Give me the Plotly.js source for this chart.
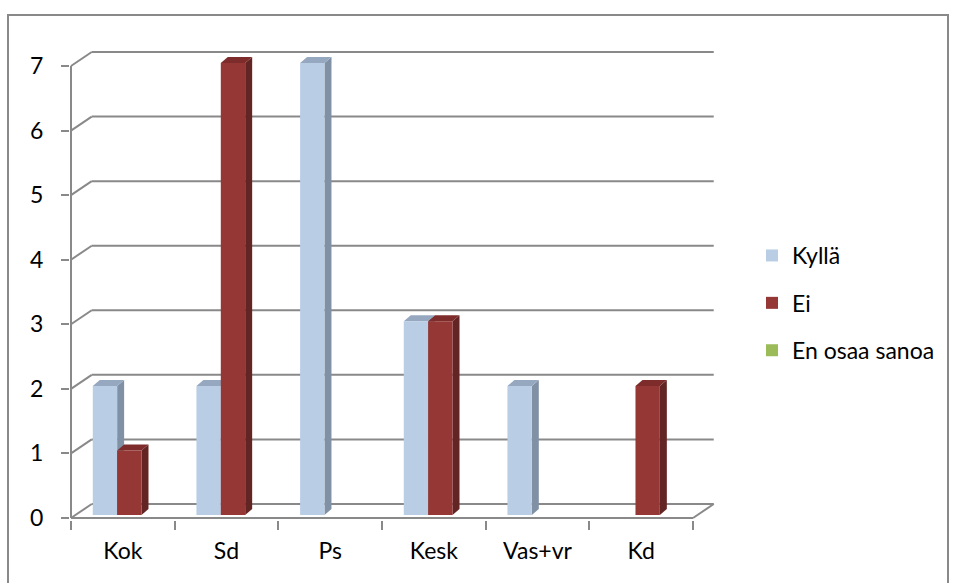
<!DOCTYPE html>
<html><head><meta charset="utf-8">
<script src="https://cdn.plot.ly/plotly-3.0.1.min.js"></script>
<style>html,body{margin:0;padding:0;background:#fff}</style>
</head><body><div id="chart" style="width:956px;height:583px"></div>
<script>
// ---- data ----
const categories = ["Kok", "Sd", "Ps", "Kesk", "Vas+vr", "Kd"];
const seriesNames = ["Kyllä", "Ei", "En osaa sanoa"];
const kylla = [2, 2, 7, 3, 2, 0];
const ei = [1, 7, 0, 3, 0, 2];
const enOsaaSanoa = [0, 0, 0, 0, 0, 0];
const yTickVals = [0, 1, 2, 3, 4, 5, 6, 7];

// ---- styling / geometry ----
const W = 956, H = 583, ML = 70, MR = 239, MT = 49, MB = 63;
const PXX = 103.67, PXY = 64.57;      // px per unit
const X0PX = 71, Y0PX = 518;          // front-corner pixel
const xRange = [-0.5 - (X0PX - ML) / PXX, -0.5 + (W - MR - X0PX) / PXX];
const yRange = [-(H - MB - Y0PX) / PXY, (Y0PX - MT) / PXY];
const DX = 0.2, DY = 0.217;           // wall depth
const BW = 0.235, B = 0.046;          // bar width, bar base
const offsets = [-0.29, -0.055, 0.18];
const SDX = 0.0675, SDY = 0.093;      // bar depth
const frontCol = ["#b9cde5", "#953735", "#9bbb59"];
const sideCol = ["#8091a6", "#632523", "#71893f"];
const topCol = ["#96a8bf", "#7e2c2b", "#86a34c"];
const gridCol = "#898989";
const font = {family: "Lato, 'Open Sans', sans-serif", size: 23, color: "#000"};
const series = [kylla, ei, enOsaaSanoa];
const idx = categories.map((_, i) => i);

const traces = series.map((vals, s) => ({
  type: "bar", name: seriesNames[s], x: idx, y: vals, base: B,
  width: BW, offset: offsets[s], xaxis: s === 2 ? "x2" : "x",
  marker: {color: frontCol[s], line: {width: 0}},
  legendgroup: "g" + s, hoverinfo: "skip"
}));

const shapes = [];
const line = (x0, y0, x1, y1) => shapes.push({type: "line", xref: "x", yref: "y", x0, y0, x1, y1,
  layer: "below", line: {color: gridCol, width: 2}});
yTickVals.forEach(v => {
  line(-0.5, v, -0.5 + DX, v + DY);
  line(-0.5 + DX, v + DY, categories.length - 0.5 + DX, v + DY);
});
const xEnd = categories.length - 0.5;
line(-0.5, 0, xEnd, 0);
line(xEnd, 0, xEnd + DX, DY);
line(-0.5, 0, -0.5, yTickVals[yTickVals.length - 1]);

series.forEach((vals, s) => {
  vals.forEach((v, i) => {
    if (!(v > 0)) return;
    const x0 = i + offsets[s], x1 = x0 + BW, y0 = B, y1 = B + v;
    shapes.push({type: "path", xref: "x", yref: "y", layer: "below", line: {width: 0},
      fillcolor: sideCol[s],
      path: `M${x1},${y0}L${x1 + SDX},${y0 + SDY}L${x1 + SDX},${y1 + SDY}L${x1},${y1}Z`});
    shapes.push({type: "path", xref: "x", yref: "y", layer: "below", line: {width: 0},
      fillcolor: topCol[s],
      path: `M${x0},${y1}L${x0 + SDX},${y1 + SDY}L${x1 + SDX},${y1 + SDY}L${x1},${y1}Z`});
  });
});

const pX = px => (px - ML) / (W - ML - MR);
const pY = py => (H - MB - py) / (H - MT - MB);
shapes.push({type: "rect", xref: "paper", yref: "paper", x0: pX(8), x1: pX(948), y0: pY(15), y1: pY(600),
  line: {color: gridCol, width: 2}, fillcolor: "rgba(0,0,0,0)", layer: "above"});

const boundaries = [-0.5].concat(idx.map(i => i + 0.5));

const layout = {
  width: W, height: H, margin: {l: ML, r: MR, t: MT, b: MB, pad: 0},
  paper_bgcolor: "#fff", plot_bgcolor: "rgba(0,0,0,0)",
  barmode: "overlay", showlegend: true, font: font,
  xaxis: {range: xRange, tickvals: boundaries, ticktext: boundaries.map(() => ""),
    ticks: "outside", ticklen: 9, tickwidth: 2, tickcolor: gridCol,
    showgrid: false, zeroline: false, showline: false, fixedrange: true},
  xaxis2: {overlaying: "x", anchor: "y", side: "bottom", range: xRange,
    tickvals: idx, ticktext: categories, ticks: "", showgrid: false, zeroline: false,
    showline: false, tickfont: font, ticklabelstandoff: 15},
  yaxis: {range: yRange, tickvals: yTickVals, ticks: "outside", ticklen: 8, tickwidth: 2,
    tickcolor: gridCol, showgrid: false, zeroline: false, showline: false,
    tickfont: font, ticklabelstandoff: 13},
  legend: {x: pX(752), y: pY(234), xanchor: "left", yanchor: "top", font: font,
    traceorder: "grouped", tracegroupgap: 14.5, bgcolor: "rgba(0,0,0,0)"},
  shapes: shapes
};
Plotly.newPlot("chart", traces, layout, {displayModeBar: false, staticPlot: true});
</script></body></html>
